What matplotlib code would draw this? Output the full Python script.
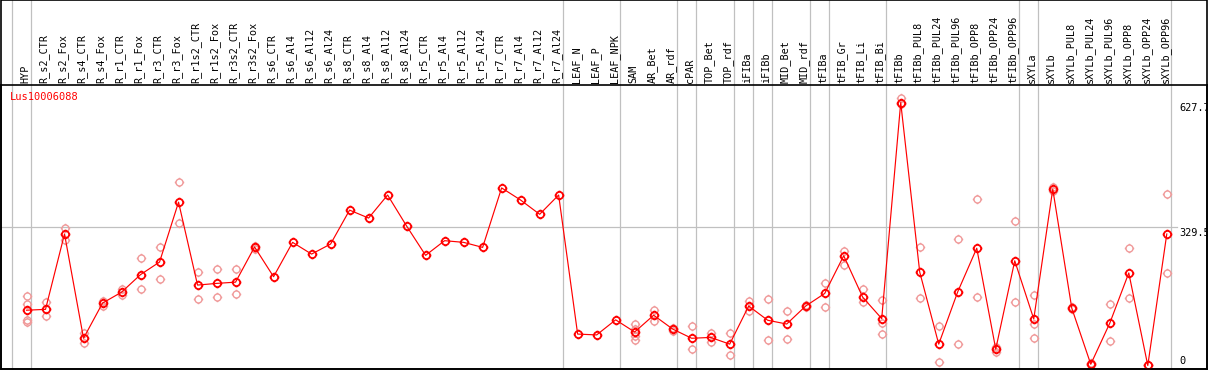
import matplotlib
matplotlib.use('Agg')
import matplotlib.pyplot as plt
from matplotlib.path import Path
from matplotlib.patches import Rectangle
import matplotlib.transforms as mtransforms

# ---------------- data ----------------
samples = ["HYP", "R_s2_CTR", "R_s2_Fox", "R_s4_CTR", "R_s4_Fox", "R_r1_CTR", "R_r1_Fox",
           "R_r3_CTR", "R_r3_Fox", "R_r1s2_CTR", "R_r1s2_Fox", "R_r3s2_CTR", "R_r3s2_Fox",
           "R_s6_CTR", "R_s6_Al4", "R_s6_Al12", "R_s6_Al24", "R_s8_CTR", "R_s8_Al4",
           "R_s8_Al12", "R_s8_Al24", "R_r5_CTR", "R_r5_Al4", "R_r5_Al12", "R_r5_Al24",
           "R_r7_CTR", "R_r7_Al4", "R_r7_Al12", "R_r7_Al24", "LEAF_N", "LEAF_P", "LEAF_NPK",
           "SAM", "AR_Bet", "AR_rdf", "cPAR", "TOP_Bet", "TOP_rdf", "iFIBa", "iFIBb",
           "MID_Bet", "MID_rdf", "tFIBa", "tFIB_Gr", "tFIB_Li", "tFIB_Bi", "tFIBb",
           "tFIBb_PUL8", "tFIBb_PUL24", "tFIBb_PUL96", "tFIBb_OPP8", "tFIBb_OPP24",
           "tFIBb_OPP96", "sXYLa", "sXYLb", "sXYLb_PUL8", "sXYLb_PUL24", "sXYLb_PUL96",
           "sXYLb_OPP8", "sXYLb_OPP24", "sXYLb_OPP96"]

means = [132, 134, 314, 65, 149, 175, 217, 247, 390, 192, 196, 199, 283,
         212, 294, 266, 290, 371, 352, 407, 333, 263, 298, 294, 282,
         424, 395, 361, 407, 75, 73, 109,
         80, 120, 87, 65, 67, 51, 142, 108, 99, 142, 172, 262, 163, 112,
         627.7, 223, 51, 176, 280, 39, 250,
         111, 421, 137, 3, 101, 221, 0, 314]

replicates = [[166, 146, 109, 105], [152, 119], [328, 300], [78, 53], [143, 154],
              [182, 168], [256, 182], [284, 206], [438, 340], [223, 158], [230, 164],
              [230, 170], [286, 279],
              [], [], [], [], [], [], [], [], [], [], [], [], [], [], [], [], [], [], [],
              [99, 88, 70, 60], [133, 107], [90, 83], [94, 39], [78, 57], [78, 25],
              [155, 129], [158, 60], [129, 64], [144, 140], [196, 139], [274, 240],
              [182, 152], [156, 101, 75],
              [638, 625], [283, 161], [94, 8], [302, 51], [397, 163], [43, 33], [345, 151],
              [168, 98, 66], [427, 416], [139, 134], [6, 1], [147, 58], [280, 161], [2, 0],
              [409, 221]]

group_bounds = [-1, 0, 28, 31, 34, 35, 37, 38, 39, 41, 42, 45, 52, 53, 60]
title = "Lus10006088"
ytick_values = [627.7, 329.5, 0]
ytick_labels = ["627.7", "329.5", "0"]

# ---------------- layout ----------------
W, H = 1209, 370
fig = plt.figure(figsize=((W + 0.3) / 100, (H + 0.3) / 100), dpi=100)
fig.patch.set_facecolor('white')

def fx(px):
    return px / W

def fy(py):
    return 1 - py / H

ax_top, ax_bot, ax_left, ax_right = 85, 369, 1, 1207
ax = fig.add_axes([fx(ax_left), fy(ax_bot), fx(ax_right) - fx(ax_left), fy(ax_top) - fy(ax_bot)])

x0, dx = 26.5, 19.0
ax.set_xlim((ax_left - x0) / dx, (ax_right - x0) / dx)
y0, sc = 365.5, 0.4185
ax.set_ylim((y0 - ax_bot) / sc, (y0 - ax_top) / sc)
ax.set_xticks([])
ax.set_yticks([])
for s in ax.spines.values():
    s.set_color('black')
    s.set_linewidth(1.2)

grid_col = '#c0c0c0'
# vertical group separators (extend up through the label band)
ymax = (ax_bot - 0.5) / (ax_bot - ax_top)
for b in group_bounds:
    ax.axvline(b + 0.22, 0, ymax, color=grid_col, lw=0.9, clip_on=False, zorder=0.5)

# horizontal gridline
ax.plot([ax.get_xlim()[0], (1177 - x0) / dx], [ytick_values[1]] * 2, color=grid_col, lw=0.9, zorder=0.5)

# custom marker: circle with four small ticks
circ = Path.unit_circle()
tick_verts = []
tick_codes = []
for (a, b) in [((1, 0), (1.35, 0)), ((-1, 0), (-1.35, 0)), ((0, 1), (0, 1.35)), ((0, -1), (0, -1.35))]:
    tick_verts += [a, b]
    tick_codes += [Path.MOVETO, Path.LINETO]
ticks = Path(tick_verts, tick_codes)
marker_path = Path.make_compound_path(circ, ticks)

xs = list(range(len(samples)))
# replicates
rx, ry = [], []
for i, reps in enumerate(replicates):
    for v in reps:
        rx.append(i)
        ry.append(v)
ax.plot(rx, ry, linestyle='none', marker=marker_path, markersize=6.8, markerfacecolor='none',
        markeredgecolor='#f09a9a', markeredgewidth=1.0, zorder=2, clip_on=False)

# mean line
ax.plot(xs, means, color='#ff0000', lw=0.85, zorder=3, clip_on=False)
ax.plot(xs, means, linestyle='none', marker=marker_path, markersize=7.0, markerfacecolor='none',
        markeredgecolor='#ff0000', markeredgewidth=1.3, zorder=4, clip_on=False)

# sample labels
mono = 'DejaVu Sans Mono'
trans = mtransforms.blended_transform_factory(ax.transData, ax.transAxes)
for i, name in enumerate(samples):
    ax.text(i - 0.08, 1 + 2.0 / (ax_bot - ax_top), name, transform=trans, rotation=90,
            ha='center', va='bottom', fontsize=7.3, family=mono, color='black', clip_on=False)

# title
fig.text(fx(10), fy(97), title, color='#ff0000', fontsize=7.5, family=mono, ha='left', va='center')

# right-side value labels
xl = (1179 - x0) / dx
for v, lab in zip(ytick_values, ytick_labels):
    va = 'bottom' if v == 0 else 'top'
    ax.text(xl, v, lab, ha='left', va=va, fontsize=7.4, family=mono, color='black', clip_on=True)

# outer frame
fig.add_artist(Rectangle((fx(1), fy(ax_bot)), fx(ax_right) - fx(1), fy(0.5) - fy(ax_bot),
                         transform=fig.transFigure, fill=False, ec='black', lw=1.2))

fig.savefig('out.png', dpi=100, facecolor='white')
